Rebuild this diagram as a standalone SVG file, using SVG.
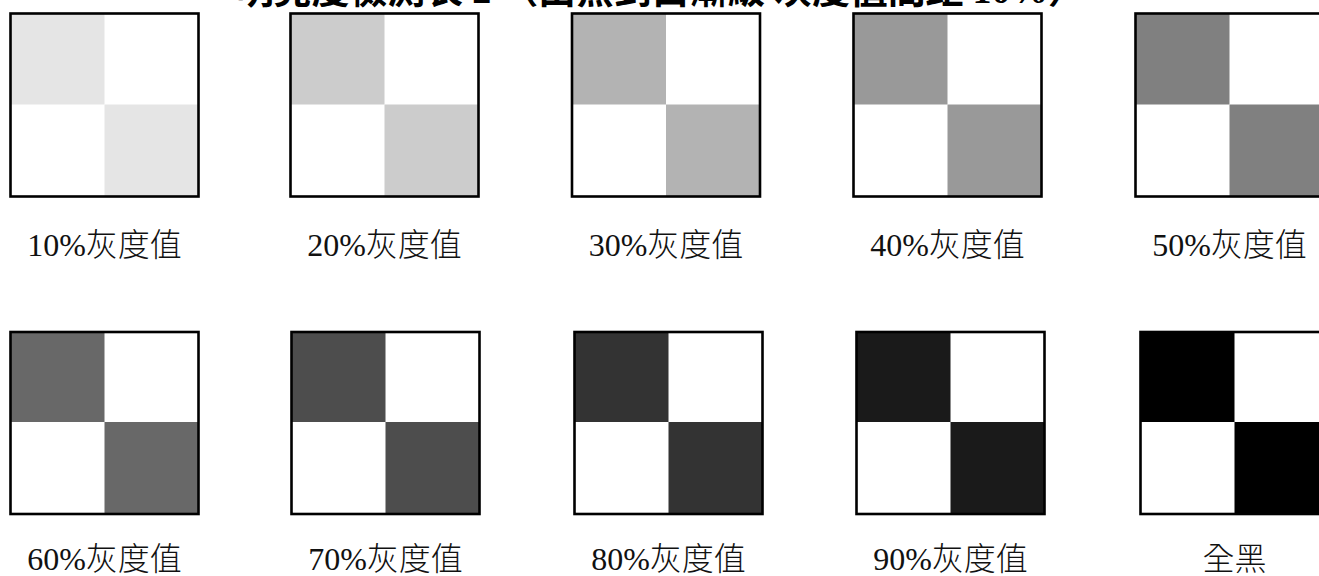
<svg xmlns="http://www.w3.org/2000/svg" width="1319" height="576" viewBox="0 0 1319 576">
<style>
.frame{fill:none;stroke:#000;stroke-width:2.6}
.lbl{font-family:"Liberation Serif","Noto Sans CJK TC",serif;font-size:32px;font-weight:300;fill:#111;text-anchor:middle}
.title{font-family:"Liberation Serif","Noto Sans CJK TC",serif;font-size:38px;font-weight:bold;fill:#000;text-anchor:middle}
.g10{fill:#e5e5e5}.g20{fill:#cccccc}.g30{fill:#b3b3b3}.g40{fill:#999999}.g50{fill:#808080}
.g60{fill:#686868}.g70{fill:#4d4d4d}.g80{fill:#333333}.g90{fill:#1a1a1a}.g100{fill:#000000}
</style>
<rect x="0" y="0" width="1319" height="576" fill="#fff"/>
<g id="title">
<text class="title" x="661" y="3" textLength="850" lengthAdjust="spacing">明亮度檢測表 2 （由黑到白漸級 灰度值間距 10%）</text>
</g>

<g id="node-10" class="g10">
<rect x="10.5" y="13.5" width="94" height="91"/><rect x="104.5" y="104.5" width="94" height="92"/>
<rect class="frame" x="10.5" y="13.5" width="188" height="183"/>
<text class="lbl" x="104.5" y="256">10%灰度值</text>
</g>
<g id="node-20" class="g20">
<rect x="290.5" y="13.5" width="94" height="91"/><rect x="384.5" y="104.5" width="94" height="92"/>
<rect class="frame" x="290.5" y="13.5" width="188" height="183"/>
<text class="lbl" x="384.5" y="256">20%灰度值</text>
</g>
<g id="node-30" class="g30">
<rect x="572" y="13.5" width="94" height="91"/><rect x="666" y="104.5" width="94" height="92"/>
<rect class="frame" x="572" y="13.5" width="188" height="183"/>
<text class="lbl" x="666" y="256">30%灰度值</text>
</g>
<g id="node-40" class="g40">
<rect x="853.5" y="13.5" width="94" height="91"/><rect x="947.5" y="104.5" width="94" height="92"/>
<rect class="frame" x="853.5" y="13.5" width="188" height="183"/>
<text class="lbl" x="947.5" y="256">40%灰度值</text>
</g>
<g id="node-50" class="g50">
<rect x="1135.5" y="13.5" width="94" height="91"/><rect x="1229.5" y="104.5" width="94" height="92"/>
<rect class="frame" x="1135.5" y="13.5" width="188" height="183"/>
<text class="lbl" x="1229.5" y="256">50%灰度值</text>
</g>

<g id="node-60" class="g60">
<rect x="10.5" y="332" width="94" height="90"/><rect x="104.5" y="422" width="94" height="92"/>
<rect class="frame" x="10.5" y="332" width="188" height="182"/>
<text class="lbl" x="104.5" y="570">60%灰度值</text>
</g>
<g id="node-70" class="g70">
<rect x="291.5" y="332" width="94" height="90"/><rect x="385.5" y="422" width="94" height="92"/>
<rect class="frame" x="291.5" y="332" width="188" height="182"/>
<text class="lbl" x="385.5" y="570">70%灰度值</text>
</g>
<g id="node-80" class="g80">
<rect x="574.5" y="332" width="94" height="90"/><rect x="668.5" y="422" width="94" height="92"/>
<rect class="frame" x="574.5" y="332" width="188" height="182"/>
<text class="lbl" x="668.5" y="570">80%灰度值</text>
</g>
<g id="node-90" class="g90">
<rect x="856.5" y="332" width="94" height="90"/><rect x="950.5" y="422" width="94" height="92"/>
<rect class="frame" x="856.5" y="332" width="188" height="182"/>
<text class="lbl" x="950.5" y="570">90%灰度值</text>
</g>
<g id="node-100" class="g100">
<rect x="1140.5" y="332" width="94" height="90"/><rect x="1234.5" y="422" width="94" height="92"/>
<rect class="frame" x="1140.5" y="332" width="188" height="182"/>
<text class="lbl" x="1234.5" y="570">全黑</text>
</g>

<g id="connectors"/>
</svg>
